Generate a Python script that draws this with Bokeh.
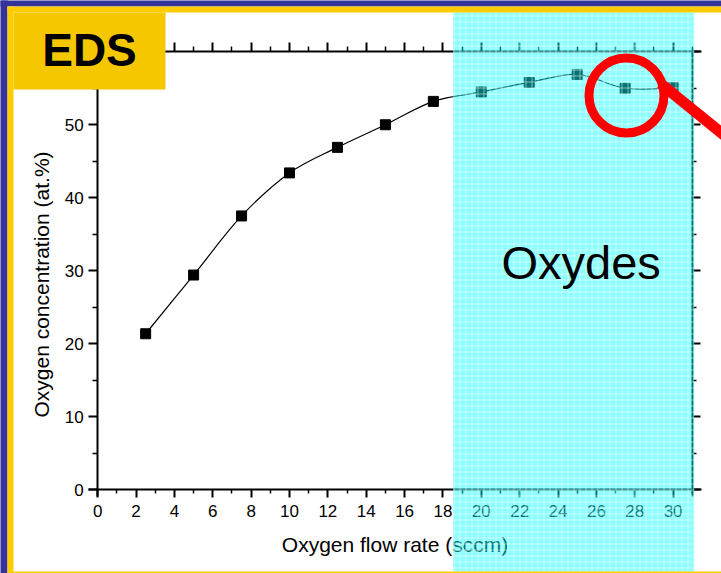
import numpy as np
from bokeh.plotting import figure
from bokeh.models import LinearAxis, FixedTicker, Range1d
from bokeh.embed import file_html
from bokeh.resources import INLINE
from bokeh.core.properties import value

# ---------------- data ----------------
flow_rate = [2.5, 5, 7.5, 10, 12.5, 15, 17.5, 20, 22.5, 25, 27.5, 30]
oxygen_conc = [21.35, 29.4, 37.5, 43.4, 46.9, 50.0, 53.2, 54.5, 55.8, 56.9, 55.0, 55.1]

x_major_ticks = [0, 2, 4, 6, 8, 10, 12, 14, 16, 18, 20, 22, 24, 26, 28, 30]
x_minor_ticks = [1, 3, 5, 7, 9, 11, 13, 15, 17, 19, 21, 23, 25, 27, 29, 31]
y_major_ticks = [0, 10, 20, 30, 40, 50, 60]
y_minor_ticks = [5, 15, 25, 35, 45, 55]

x_label = "Oxygen flow rate (sccm)"
y_label = "Oxygen concentration (at.%)"
region_label = "Oxydes"
badge_label = "EDS"
oxide_region = (18.53, 31.1)      # x-extent of the highlighted oxide region
x_limits = (0, 31)
y_limits = (0, 60)

# ---------------- layout helpers (pixel -> data) ----------------
W, H = 721, 573
X0, SX = 97.2, 19.18   # pixel of x=0, px per unit
Y0, SY = 489.0, 7.295  # pixel of y=0, px per unit


def dx(px):
    return (px - X0) / SX


def dy(py):
    return (Y0 - py) / SY


FONT = "Liberation Sans"

p = figure(width=W, height=H,
           x_range=Range1d(dx(0), dx(W)), y_range=Range1d(dy(H), dy(0)),
           x_axis_type=None, y_axis_type=None,
           output_backend="svg", toolbar_location=None,
           min_border=0, outline_line_color=None,
           background_fill_color="white", border_fill_color="white",
           styles={"position": "absolute", "left": "0px", "top": "0px"})


def style_axis(ax, labels=True, tick_out=8, minor_out=4):
    ax.axis_line_width = 2
    ax.axis_line_color = "black"
    ax.major_tick_line_width = 2
    ax.minor_tick_line_width = 1.5
    ax.major_tick_line_color = "black"
    ax.minor_tick_line_color = "black"
    ax.major_tick_in = 0
    ax.minor_tick_in = 0
    ax.major_tick_out = tick_out
    ax.minor_tick_out = minor_out
    ax.major_label_text_font = FONT
    ax.major_label_text_font_size = "17px"
    ax.major_label_text_color = "black" if labels else None
    ax.major_label_standoff = 5
    ax.axis_label_text_font = FONT
    ax.axis_label_text_font_size = "21px"
    ax.axis_label_text_font_style = "normal"
    ax.axis_label_text_color = "black"


xb = (dx(88), dx(701))
yb = (dy(496), y_limits[1])

bottom = LinearAxis(fixed_location=y_limits[0], bounds=xb,
                    ticker=FixedTicker(ticks=x_major_ticks, minor_ticks=x_minor_ticks),
                    axis_label=x_label)
style_axis(bottom, True, 8, 4)
bottom.major_label_standoff = 7
bottom.axis_label_standoff = 13
p.add_layout(bottom, "below")

top = LinearAxis(fixed_location=y_limits[1], bounds=xb,
                 ticker=FixedTicker(ticks=x_major_ticks, minor_ticks=x_minor_ticks))
style_axis(top, False, 9, 5)
p.add_layout(top, "above")

left = LinearAxis(fixed_location=x_limits[0], bounds=yb,
                  ticker=FixedTicker(ticks=y_major_ticks, minor_ticks=y_minor_ticks))
style_axis(left, True, 9, 5)
p.add_layout(left, "left")

right = LinearAxis(fixed_location=x_limits[1], bounds=yb,
                   ticker=FixedTicker(ticks=y_major_ticks, minor_ticks=y_minor_ticks))
style_axis(right, False, 8, 4)
p.add_layout(right, "right")

# ---------------- smooth curve through the points (Catmull-Rom beziers) ----------------
xs = np.array(flow_rate, dtype=float)
ys = np.array(oxygen_conc, dtype=float)
xp = np.concatenate([[xs[0]], xs, [xs[-1]]])
yp = np.concatenate([[ys[0]], ys, [ys[-1]]])
n = len(xs) - 1
x0 = xs[:-1]; y0 = ys[:-1]; x1 = xs[1:]; y1 = ys[1:]
cx0 = x0 + (xp[2:n + 2] - xp[0:n]) / 6.0
cy0 = y0 + (yp[2:n + 2] - yp[0:n]) / 6.0
cx1 = x1 - (xp[3:n + 3] - xp[1:n + 1]) / 6.0
cy1 = y1 - (yp[3:n + 3] - yp[1:n + 1]) / 6.0
p.bezier(x0=x0, y0=y0, x1=x1, y1=y1, cx0=cx0, cy0=cy0, cx1=cx1, cy1=cy1,
         line_color="black", line_width=1.2)
p.scatter(flow_rate, oxygen_conc, marker="square", size=10,
          fill_color="black", line_color="black")

# ---------------- overlays ----------------
p.quad(left=[oxide_region[0]], right=[oxide_region[1]], bottom=[dy(571)], top=[dy(12)],
       fill_color="#00FFFF", fill_alpha=0.45, line_color=None,
       hatch_pattern="+", hatch_color="white", hatch_alpha=0.5,
       hatch_scale=6, hatch_weight=1, level="overlay")

p.text(x=[dx(501)], y=[dy(280 - 0.39 * 47)], text=[region_label], text_font=value(FONT),
       text_font_size="47px", text_align="left", text_baseline="alphabetic",
       text_color="black", level="overlay")

# magnifier
p.segment(x0=[dx(660)], y0=[dy(83)], x1=[dx(745)], y1=[dy(152)],
          line_color="#FF0000", line_width=11, line_cap="butt", level="overlay")
p.scatter(x=[dx(626)], y=[dy(95)], marker="circle", size=75,
          fill_color=None, line_color="#FF0000", line_width=9, level="overlay")

# y axis title
p.text(x=[dx(49 - 0.39 * 21)], y=[dy(284)], text=[y_label], angle=np.pi / 2,
       text_font=value(FONT), text_font_size="21px", text_align="center",
       text_baseline="alphabetic", text_color="black", level="overlay")

# frame borders
NAVY, YEL = "#333399", "#FFCC00"
p.quad(left=[dx(0), dx(0)], right=[dx(W), dx(7)], top=[dy(0), dy(0)], bottom=[dy(6), dy(H)],
       fill_color=NAVY, line_color=None, level="overlay")
p.quad(left=[dx(7), dx(7), dx(7)], right=[dx(W), dx(13), dx(W)],
       top=[dy(6), dy(6), dy(571)], bottom=[dy(12), dy(H), dy(H)],
       fill_color=YEL, line_color=None, level="overlay")

# EDS badge
p.quad(left=[dx(13)], right=[dx(165)], top=[dy(12)], bottom=[dy(89)],
       fill_color="#F5C700", line_color=None, level="overlay")
p.text(x=[dx(89)], y=[dy(66.5 - 0.38 * 46)], text=[badge_label], text_font=value(FONT),
       text_font_style="bold", text_font_size="46px", text_align="center",
       text_baseline="alphabetic", text_color="black", level="overlay")

open("out.html", "w").write(file_html(p, INLINE))
